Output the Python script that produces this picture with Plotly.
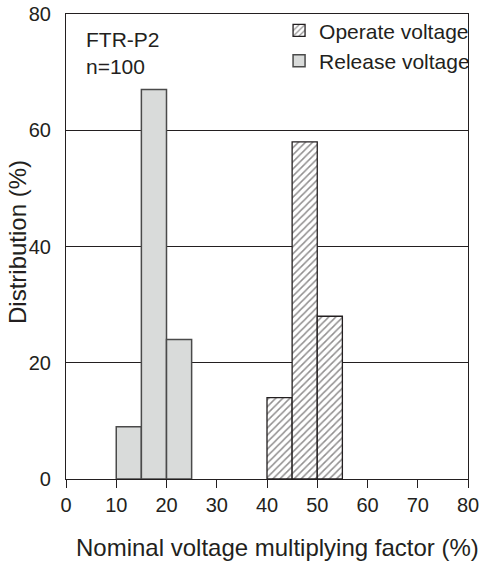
import plotly.graph_objects as go

bin_width = 5
release_bins = [10, 15, 20]
release_values = [9, 67, 24]
operate_bins = [40, 45, 50]
operate_values = [14, 58, 28]

x_ticks = [0, 10, 20, 30, 40, 50, 60, 70, 80]
y_ticks = [0, 20, 40, 60, 80]

font = "Liberation Sans, Arial, sans-serif"
ink = "#231f20"

fig = go.Figure()
fig.add_trace(go.Bar(
    x=operate_bins, y=operate_values, width=bin_width, offset=0,
    name="Operate voltage",
    marker=dict(color="white", line=dict(color=ink, width=1.3),
                pattern=dict(shape="/", fgcolor=ink, bgcolor="white",
                             size=5, solidity=0.3)),
))
fig.add_trace(go.Bar(
    x=release_bins, y=release_values, width=bin_width, offset=0,
    name="Release voltage",
    marker=dict(color="#d9dbda", line=dict(color="#4a4a4a", width=1.5)),
))

fig.add_annotation(x=0.045, y=0.975, xref="paper", yref="paper",
                   text="FTR-P2<br>n=100", showarrow=False, align="left",
                   xanchor="left", yanchor="top",
                   font=dict(family=font, size=21, color=ink))
fig.add_annotation(x=0.525, y=-0.148, xref="paper", yref="paper",
                   text="Nominal voltage multiplying factor (%)",
                   showarrow=False, xanchor="center", yanchor="middle",
                   font=dict(family=font, size=24, color=ink))
fig.add_annotation(x=-0.119, y=0.51, xref="paper", yref="paper",
                   text="Distribution (%)", textangle=-90,
                   showarrow=False, xanchor="center", yanchor="middle",
                   font=dict(family=font, size=24, color=ink))

fig.update_layout(
    width=481, height=562,
    margin=dict(l=66, r=13, t=14, b=83, autoexpand=False),
    plot_bgcolor="white", paper_bgcolor="white",
    barmode="overlay",
    font=dict(family=font, size=20, color=ink),
    legend=dict(x=0.53, y=1.008, xanchor="left", yanchor="top",
                bgcolor="rgba(0,0,0,0)", font=dict(size=21),
                itemwidth=30, tracegroupgap=0),
    xaxis=dict(range=[0, 80], tickvals=x_ticks, ticks="outside", ticklen=8,
               tickcolor=ink, showline=True, linecolor=ink,
               linewidth=1.2, mirror=True, showgrid=False, zeroline=False),
    yaxis=dict(range=[0, 80], tickvals=y_ticks, ticks="", showline=True,
               linecolor=ink, linewidth=1.2, mirror=True,
               showgrid=True, gridcolor=ink, gridwidth=1,
               zeroline=False, ticklabelstandoff=10),
)

fig.write_html("out.html")
